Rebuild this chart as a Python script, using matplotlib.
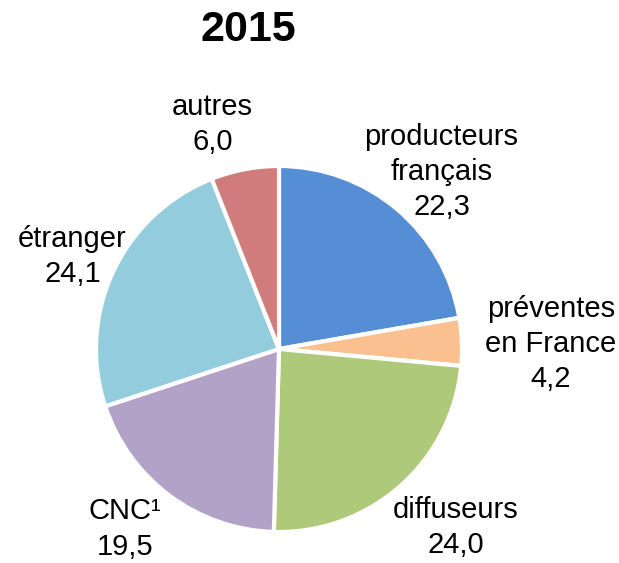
import numpy as np
import matplotlib
matplotlib.use("Agg")
import matplotlib.pyplot as plt

plt.rcParams['font.family'] = ['Liberation Sans', 'DejaVu Sans']

categories = ["producteurs\nfrançais", "préventes\nen France", "diffuseurs", "CNC¹", "étranger", "autres"]
values = [22.3, 4.2, 24.0, 19.5, 24.1, 6.0]
value_labels = ["22,3", "4,2", "24,0", "19,5", "24,1", "6,0"]
colors = ["#558ED5", "#FAC090", "#AFC97A", "#B3A2C7", "#93CDDD", "#D07C7C"]
# label anchor (last-line baseline), in pie radius units
label_pos = [(0.888, 0.732), (1.486, -0.208), (0.964, -1.115),
             (-0.842, -1.124), (-1.128, 0.366), (-0.363, 1.087)]

fig = plt.figure(figsize=(6.19, 5.63), dpi=100)
ax = fig.add_axes([(279 - 183) / 619, (563 - 349 - 183) / 563, 366 / 619, 366 / 563])
wedges, _ = ax.pie(values, colors=colors, startangle=90, counterclock=False,
                   wedgeprops=dict(edgecolor="white", linewidth=3))
ax.set_xlim(-1, 1)
ax.set_ylim(-1, 1)
ax.set_aspect('equal')

for cat, vl, (lx, ly) in zip(categories, value_labels, label_pos):
    ax.text(lx, ly, cat + "\n" + vl, ha='center', va='baseline',
            fontsize=21, linespacing=1.33, clip_on=False)

fig.text(248 / 619, 1 - 30 / 563, "2015", ha='center', va='center', fontsize=31, fontweight='bold')

fig.savefig("out.png", dpi=100)
